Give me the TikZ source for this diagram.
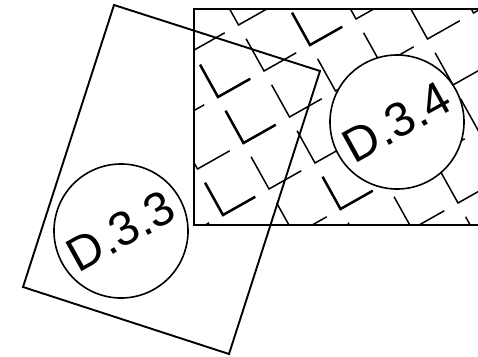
\documentclass[tikz,border=0pt]{standalone}
\usepackage{fontspec}
\setmainfont{Liberation Sans}
\begin{document}
\begin{tikzpicture}[x=1pt,y=-1pt,
  outline/.style={draw=black,line width=1.9pt,line join=miter},
  thinmark/.style={draw=black,line width=1.5pt},
  boldmark/.style={draw=black,line width=2.5pt},
  label/.style={circle,draw=black,line width=1.6pt,fill=white,minimum size=134pt,inner sep=0pt,
    rotate=29,font=\fontsize{48}{48}\selectfont}]
\useasboundingbox[fill=white] (0,0) rectangle (478,356);
% hatched rectangle
\begin{scope}
  \clip (194,9) rectangle (478,225);
  \foreach \a in {-2,...,5}{
    \foreach \b in {-3,...,6}{
      \draw[thinmark] ({218+25.5*\a+46*\b},{97+46*\a-26*\b}) ++(-17.9,-32.2) -- ++(17.9,32.2) -- ++(32.2,-18.2);
    }
  }
  \foreach \a/\b in {0/0,1/0,0/2,2/-1,3/1}{
    \draw[boldmark] ({218+25.5*\a+46*\b},{97+46*\a-26*\b}) ++(-17.9,-32.2) -- ++(17.9,32.2) -- ++(32.2,-18.2);
  }
\end{scope}
\draw[outline] (480,9) -- (194,9) -- (194,225) -- (480,225);
% rotated rectangle
\coordinate (rt) at (114,5);
\coordinate (rr) at (320,71);
\coordinate (rb) at (229,354);
\coordinate (rl) at (23,287);
\draw[outline] (rt) -- (rr) -- (rb) -- (rl) -- cycle;
% circles
\node[label] (d33) at (121,231) {D.3.3};
\node[label] (d34) at (397,122) {D.3.4};
\end{tikzpicture}
\end{document}
